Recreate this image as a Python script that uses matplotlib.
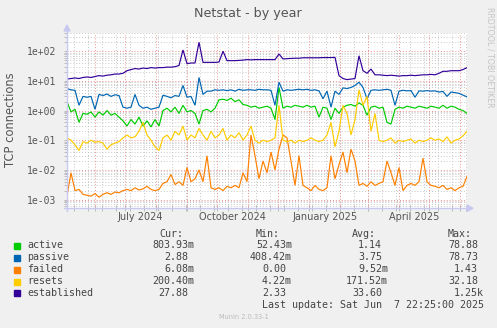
import datetime as dt
import matplotlib
matplotlib.use("Agg")
import matplotlib.pyplot as plt
from matplotlib.lines import Line2D
from matplotlib.patches import Polygon, Rectangle
from matplotlib.ticker import FuncFormatter, NullFormatter
import numpy as np

# graph window: 400 days up to the last update, one sample every 4 days
end_time = dt.datetime(2025, 6, 7, 22, 25)
start_time = end_time - dt.timedelta(days=400)
step_days = 4

active = [2.0, 0.9, 1.1, 0.4, 0.8, 0.75, 0.9, 0.6, 0.9, 0.7,
          1.0, 0.7, 0.8, 0.6, 0.45, 0.3, 0.5, 0.35, 0.6, 0.3,
          0.45, 0.28, 0.5, 0.3, 1.0, 1.2, 0.9, 1.3, 0.8, 1.5,
          0.9, 1.0, 0.8, 0.35, 1.0, 1.1, 0.9, 1.2, 2.3, 2.4,
          2.2, 2.6, 2.0, 2.3, 1.6, 1.5, 1.3, 1.4, 1.2, 1.3,
          1.4, 1.2, 0.5, 6.0, 1.2, 1.4, 1.3, 1.5, 1.4, 1.3,
          1.5, 1.3, 1.4, 0.6, 1.3, 1.2, 0.5, 1.2, 0.8, 1.3,
          1.5, 1.6, 1.4, 1.8, 1.5, 0.7, 1.3, 1.4, 1.2, 1.3,
          0.4, 0.35, 1.1, 1.3, 1.2, 1.4, 1.3, 1.2, 1.4, 1.3,
          1.2, 1.4, 1.3, 1.2, 1.5, 1.2, 1.4, 1.3, 1.1, 1.0,
          0.8]
passive = [5.5, 5.0, 4.8, 1.5, 3.0, 2.8, 3.0, 1.1, 3.5, 3.2,
           3.6, 3.0, 3.4, 3.2, 1.3, 1.2, 1.3, 3.5, 1.5, 1.2,
           1.3, 1.1, 1.2, 1.3, 3.3, 3.0, 2.7, 3.2, 3.0, 7.0,
           2.8, 3.0, 1.5, 13.0, 3.5, 4.5, 4.5, 5.0, 4.8, 5.0,
           4.7, 5.0, 4.5, 5.2, 4.8, 5.0, 5.0, 4.8, 5.2, 5.0,
           5.0, 4.8, 1.5, 9.0, 4.5, 5.0, 4.8, 5.0, 5.2, 5.0,
           5.2, 4.8, 5.0, 4.6, 2.5, 4.5, 1.3, 4.5, 3.5, 5.8,
           5.5, 6.0, 7.0, 9.0, 6.0, 2.5, 4.8, 5.0, 4.8, 5.0,
           5.2, 4.8, 1.5, 4.5, 4.8, 4.6, 4.7, 2.8, 4.6, 4.5,
           4.7, 4.5, 4.6, 4.2, 4.4, 3.0, 4.2, 4.0, 3.8, 3.3,
           2.9]
failed = [1.3e-3, 8e-3, 2e-3, 2.2e-3, 1.5e-3, 1.4e-3, 1.3e-3, 1.6e-3, 1.2e-3, 1.5e-3,
          1.7e-3, 1.5e-3, 1.8e-3, 1.7e-3, 2e-3, 2.2e-3, 2e-3, 2.5e-3, 2.1e-3, 2.3e-3,
          2.8e-3, 2.2e-3, 2.0e-3, 2.2e-3, 3.5e-3, 4e-3, 7e-3, 3.2e-3, 4e-3, 3e-3,
          1.2e-2, 4e-3, 5e-3, 1e-2, 4e-3, 3e-2, 2.5e-3, 2.2e-3, 2.5e-3, 2e-3,
          2.8e-3, 2.5e-3, 3e-3, 2.5e-3, 8e-3, 4e-3, 0.15, 0.03, 5e-3, 0.02,
          8e-3, 0.04, 0.01, 0.05, 0.15, 0.12, 0.02, 3e-3, 0.03, 3e-3,
          2.5e-3, 2e-3, 3e-3, 2.2e-3, 2e-3, 2.5e-3, 0.03, 5e-3, 0.015, 0.04,
          8e-3, 0.05, 0.02, 3e-3, 3.5e-3, 2.8e-3, 4e-3, 3e-3, 3.5e-3, 4e-3,
          0.02, 8e-3, 3e-3, 0.012, 2e-3, 3e-3, 3.5e-3, 3e-3, 4e-3, 0.025,
          4e-3, 3e-3, 2.8e-3, 2.5e-3, 3e-3, 2.2e-3, 2.5e-3, 2e-3, 2.5e-3, 2.8e-3,
          6e-3]
resets = [0.12, 0.1, 0.07, 0.045, 0.09, 0.08, 0.1, 0.085, 0.09, 0.08,
          0.05, 0.07, 0.08, 0.09, 0.12, 0.15, 0.12, 0.13, 0.2, 0.4,
          0.15, 0.1, 0.06, 0.045, 0.12, 0.15, 0.1, 0.2, 0.15, 0.3,
          0.1, 0.15, 0.12, 0.25, 0.15, 0.1, 0.2, 0.12, 0.15, 0.25,
          0.1, 0.15, 0.12, 0.18, 0.1, 0.15, 0.3, 0.1, 0.08, 0.1,
          0.09, 0.1, 0.12, 1.5, 0.1, 0.09, 0.1, 0.08, 0.1, 0.09,
          0.1, 0.12, 0.1, 0.09, 0.1, 0.15, 0.4, 0.06, 0.2, 1.5,
          0.8, 0.15, 0.5, 5.0, 1.5, 3.0, 0.2, 0.8, 0.1, 0.09,
          0.1, 0.12, 0.08, 0.1, 0.09, 0.1, 0.11, 0.08, 0.1, 0.09,
          0.1, 0.12, 0.1, 0.11, 0.09, 0.13, 0.08, 0.1, 0.11, 0.14,
          0.2]
established = [11.5, 12, 12.5, 12, 13, 13.5, 13, 14, 15, 14.5,
               15.5, 16, 17, 17, 18, 22, 24, 26, 25, 27,
               26, 28, 27, 28, 28, 29, 29, 30, 33, 110,
               38, 40, 40, 200, 42, 42, 42, 42, 43, 100,
               48, 48, 48, 49, 50, 52, 51, 52, 52, 52,
               52, 52, 52, 80, 55, 56, 57, 58, 58, 60,
               60, 60, 60, 60, 61, 61, 61, 62, 15, 12,
               11, 11.5, 12, 70, 22, 18, 25, 16, 16, 15.5,
               15, 15.5, 15, 14.5, 15, 15, 15.5, 15, 15.5, 16,
               16, 16.5, 16, 18, 21, 21, 22, 22, 22, 24,
               28]

names = ["active", "passive", "failed", "resets", "established"]
colors = ["#00CC00", "#0066B3", "#FF8000", "#FFCC00", "#330099"]
cur = ["803.93m", "2.88", "6.08m", "200.40m", "27.88"]
mins = ["52.43m", "408.42m", "0.00", "4.22m", "2.33"]
avgs = ["1.14", "3.75", "9.52m", "171.52m", "33.60"]
maxs = ["78.88", "78.73", "1.43", "32.18", "1.25k"]
x_labels = [(2024, 7, "July 2024"), (2024, 10, "October 2024"),
            (2025, 1, "January 2025"), (2025, 4, "April 2025")]

W, H = 497, 328
BG = "#F0F0F0"
TXT = "#555555"


def fx(x):
    return x / W


def fy(y):
    return 1 - y / H


def day_of(t):
    return (t - start_time).total_seconds() / 86400


fig = plt.figure(figsize=(W / 100, H / 100), dpi=100, facecolor=BG)
ax = fig.add_axes([fx(67), fy(208), 400 / W, 175 / H])
ax.set_facecolor("white")

series = [active, passive, failed, resets, established]
for vals, col in zip(series, colors):
    assert len(vals) == 101
    days = np.arange(len(vals)) * step_days
    ax.plot(days, vals, color=col, lw=0.85, zorder=3, solid_joinstyle="miter")

ax.set_yscale("log")
ax.set_xlim(0, 400)
ax.set_ylim(5.2e-4, 410)

# grid: grey dotted every 2 weeks / minor decades, red dotted on months / decades
dots = (0, (1, 2))
for d in np.arange(7, 400, 14):
    ax.axvline(d, color="#C8C8C8", lw=0.7, ls=dots, zorder=1)
month_starts = [dt.datetime(2024, m, 1) for m in range(6, 13)] + \
               [dt.datetime(2025, m, 1) for m in range(1, 7)]
for m in month_starts:
    ax.axvline(day_of(m), color="#F09090", lw=0.7, ls=dots, zorder=1)
ax.yaxis.grid(True, which="minor", color="#C8C8C8", lw=0.7, ls=dots, zorder=1)
ax.yaxis.grid(True, which="major", color="#F09090", lw=0.7, ls=dots, zorder=1)
ax.set_axisbelow(True)

ax.yaxis.set_major_formatter(FuncFormatter(lambda v, p: f"{v:.0e}"))
ax.yaxis.set_minor_formatter(NullFormatter())
ax.tick_params(axis="y", which="both", direction="out", length=2,
               color="#BBBBBB", width=0.7, labelsize=7, labelcolor=TXT, pad=5.8)
for lab in ax.get_yticklabels():
    lab.set_family("DejaVu Sans Mono")

label_pos = []
for yr, mo, _ in x_labels:
    a = dt.datetime(yr, mo, 1)
    b = dt.datetime(yr + (mo // 12), mo % 12 + 1, 1)
    label_pos.append((day_of(a) + day_of(b)) / 2)
ax.set_xticks(label_pos)
ax.set_xticklabels([t for _, _, t in x_labels])
ax.set_xticks(list(np.arange(7, 400, 14)) + [day_of(m) for m in month_starts], minor=True)
ax.tick_params(axis="x", which="major", length=0, labelsize=7, labelcolor=TXT, pad=3)
ax.tick_params(axis="x", which="minor", direction="inout", length=4,
               color="#BBBBBB", width=0.7)

for s in ax.spines.values():
    s.set_visible(False)

# axis lines with arrows
axc = "#C8C8F0"
fig.add_artist(Line2D([fx(67), fx(67)], [fy(211), fy(30)], color=axc, lw=1))
fig.add_artist(Line2D([fx(64), fx(469)], [fy(208), fy(208)], color=axc, lw=1))
fig.add_artist(Polygon([(fx(64), fy(31)), (fx(70), fy(31)), (fx(67), fy(25))],
                       closed=True, color=axc, transform=fig.transFigure))
fig.add_artist(Polygon([(fx(467), fy(205)), (fx(467), fy(211.5)), (fx(473), fy(208.3))],
                       closed=True, color=axc, transform=fig.transFigure))

# titles
fig.text(fx(248), fy(13.5), "Netstat - by year", ha="center", va="center",
         fontsize=9.2, color=TXT)
fig.text(fx(11), fy(120), "TCP connections", rotation=90, ha="center",
         va="center", fontsize=8.3, color=TXT)
fig.text(fx(490), fy(57), "RRDTOOL / TOBI OETIKER", rotation=270, ha="center",
         va="center", fontsize=5.7, color="#C4C4C4")
fig.text(fx(244), fy(317), "Munin 2.0.33-1", ha="center", va="center",
         fontsize=4.8, color="#BBBBBB")

# legend
mono = dict(family="DejaVu Sans Mono", fontsize=7.2, color="#444444", va="center")
row_y = [245.5, 257.5, 269.5, 281.5, 293.3]
fig.text(fx(159), fy(234), "Cur:", **mono)
fig.text(fx(256), fy(234), "Min:", **mono)
fig.text(fx(352), fy(234), "Avg:", **mono)
fig.text(fx(448), fy(234), "Max:", **mono)
col_right = [194, 292, 388, 484]


def put_value(s, right, y):
    r = right if s[-1].isalpha() else right - 6
    fig.text(fx(r), fy(y), s, ha="right", **mono)


for i, name in enumerate(names):
    y = row_y[i]
    fig.add_artist(Rectangle((fx(14), fy(y + 3)), 6 / W, 6 / H,
                             color=colors[i], transform=fig.transFigure))
    fig.text(fx(27), fy(y), name, ha="left", **mono)
    for col, r in zip([cur, mins, avgs, maxs], col_right):
        put_value(col[i], r, y)

fig.text(fx(484), fy(305.3), "Last update: Sat Jun  7 22:25:00 2025",
         ha="right", **mono)

fig.savefig("out.png", dpi=100, facecolor=BG)
